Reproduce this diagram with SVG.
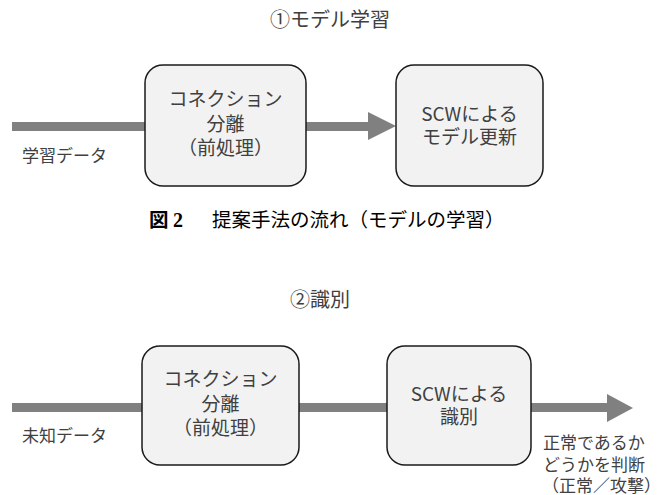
<svg xmlns="http://www.w3.org/2000/svg" width="669" height="495" viewBox="0 0 669 495">
<style>
.bg{fill:#ffffff}
.box{fill:#f2f2f2;stroke:#1a1a1a;stroke-width:1.5}
.lbl{font-family:"Noto Sans CJK JP","Noto Sans",sans-serif;fill:#404040;font-size:19px}
.sm{font-family:"Noto Sans CJK JP","Noto Sans",sans-serif;fill:#404040;font-size:17px}
.ttl{font-family:"Noto Sans CJK JP","Noto Sans",sans-serif;fill:#404040;font-size:20px}
.cap{font-family:"Noto Sans CJK JP",sans-serif;fill:#000;font-size:19.5px}
.ln{stroke:#808080;stroke-width:9;fill:none}
.hd{fill:#808080}
</style>
<rect class="bg" x="0" y="0" width="669" height="495"/>
<text class="ttl" x="270" y="27">①モデル学習</text>
<text class="ttl" x="290" y="307">②識別</text>
<text class="cap" x="149" y="227" font-size="17px"><tspan font-weight="bold">図</tspan> <tspan font-family="'Liberation Serif',serif" font-weight="bold" font-size="20px">2</tspan></text>
<text class="cap" x="212" y="227">提案手法の流れ（モデルの学習）</text>
<g id="connectors">
  <line class="ln" x1="12" y1="126.5" x2="146" y2="126.5"/>
  <line class="ln" x1="305" y1="126.5" x2="369" y2="126.5"/>
  <polygon class="hd" points="368,112 396,126 368,140"/>
  <line class="ln" x1="12" y1="407.5" x2="143" y2="407.5"/>
  <line class="ln" x1="298" y1="407.5" x2="388" y2="407.5"/>
  <line class="ln" x1="530" y1="407.5" x2="608" y2="407.5"/>
  <polygon class="hd" points="607,394 633,408 607,422"/>
  <text class="sm" x="22" y="162">学習データ</text>
  <text class="sm" x="22" y="442">未知データ</text>
  <text class="sm" x="543" y="449">正常であるか</text>
  <text class="sm" x="543" y="471">どうかを判断</text>
  <text class="sm" x="542" y="492">（正常／攻撃）</text>
</g>
<g id="n1">
  <rect class="box" x="145" y="65" width="161" height="121" rx="18"/>
  <text class="lbl" text-anchor="middle" x="225.5" y="106">コネクション</text>
  <text class="lbl" text-anchor="middle" x="225.5" y="131">分離</text>
  <text class="lbl" text-anchor="middle" x="225.5" y="155">（前処理）</text>
</g>
<g id="n2">
  <rect class="box" x="396" y="65" width="147" height="121" rx="18"/>
  <text class="lbl" text-anchor="middle" x="469.5" y="121">SCWによる</text>
  <text class="lbl" text-anchor="middle" x="469.5" y="144">モデル更新</text>
</g>
<g id="n3">
  <rect class="box" x="142" y="346" width="157" height="119" rx="18"/>
  <text class="lbl" text-anchor="middle" x="220.5" y="386">コネクション</text>
  <text class="lbl" text-anchor="middle" x="220.5" y="411">分離</text>
  <text class="lbl" text-anchor="middle" x="220.5" y="435">（前処理）</text>
</g>
<g id="n4">
  <rect class="box" x="387" y="346" width="144" height="119" rx="18"/>
  <text class="lbl" text-anchor="middle" x="459" y="401">SCWによる</text>
  <text class="lbl" text-anchor="middle" x="459" y="424">識別</text>
</g>
</svg>
